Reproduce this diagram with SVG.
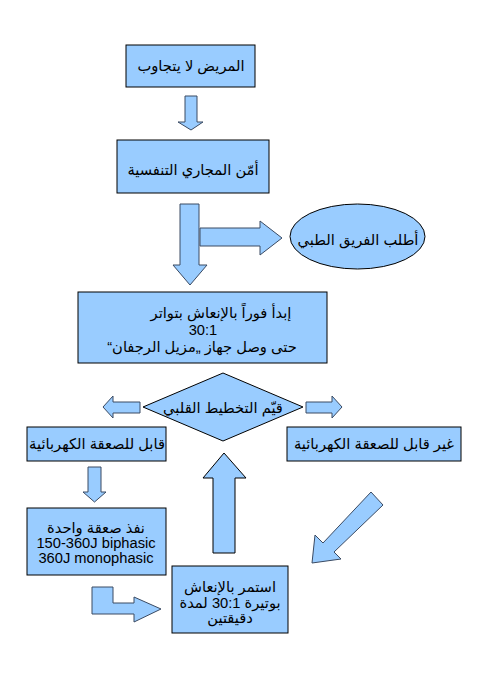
<svg xmlns="http://www.w3.org/2000/svg" width="482" height="682" viewBox="0 0 482 682">
<style>
.box{fill:#99ccff;stroke:#000;stroke-width:1}
.arr{fill:#99ccff;stroke:#3a4a62;stroke-width:1;stroke-linejoin:miter}
.t{font-family:"Liberation Sans","DejaVu Sans",sans-serif;font-size:14.7px;fill:#000;text-anchor:middle}
</style>
<rect width="482" height="682" fill="#fff"/>
<g id="connectors">
<polygon class="arr" points="185,96 197,96 197,122 203,122 191,130 178,122 185,122"/>
<polygon class="arr" points="180,204 199,204 199,265 207,265 190,285 173,265 180,265"/>
<polygon class="arr" points="200,228 260,228 260,221 282,238 260,255 260,246 200,246"/>
<polygon class="arr" points="140,402 113,402 113,396 103,407 113,418 113,413 140,413"/>
<polygon class="arr" points="306,402 332,402 332,396 342,407 332,418 332,413 306,413"/>
<polygon class="arr" points="88,467 101,467 101,492 106,492 94.5,502 83,492 88,492"/>
<polygon class="arr" style="stroke:#000" points="213,553 235,553 235,478 246,478 224,453 203,478 213,478"/>
<polygon class="arr" points="312,563 315,535 323,543 371,492 383,505 334,552 341,559"/>
<polygon class="arr" points="92,587 113,587 113,603 134,603 134,597 161,609 134,622 134,614 92,614"/>
</g>
<g id="n1">
<rect class="box" x="126" y="45" width="129" height="42"/>
<text class="t" x="191" y="71" direction="rtl">المريض لا يتجاوب</text>
</g>
<g id="n2">
<rect class="box" x="117" y="140" width="152" height="53"/>
<text class="t" x="193" y="175" direction="rtl">أمّن المجاري التنفسية</text>
</g>
<g id="n3">
<ellipse class="box" cx="357.5" cy="236.5" rx="67.5" ry="32.5"/>
<text class="t" x="358" y="245" direction="rtl">أطلب الفريق الطبي</text>
</g>
<g id="n4">
<rect class="box" x="78" y="292" width="249" height="71"/>
<text class="t" x="221" y="318" direction="rtl">إبدأ فوراً بالإنعاش بتواتر</text>
<text class="t" x="203" y="335">30:1</text>
<text class="t" x="202" y="352" direction="rtl">حتى وصل جهاز „مزيل الرجفان“</text>
</g>
<g id="n5">
<polygon class="box" points="223,373 303,407 223,441 143,407"/>
<text class="t" x="223" y="413" direction="rtl">قيّم التخطيط القلبي</text>
</g>
<g id="n6">
<rect class="box" x="27" y="427" width="139" height="34"/>
<text class="t" x="97" y="449" direction="rtl">قابل للصعقة الكهربائية</text>
</g>
<g id="n7">
<rect class="box" x="287" y="427" width="174" height="34"/>
<text class="t" x="374" y="449" direction="rtl">غير قابل للصعقة الكهربائية</text>
</g>
<g id="n8">
<rect class="box" x="27" y="508" width="139" height="67"/>
<text class="t" x="96" y="533" direction="rtl">نفذ صعقة واحدة</text>
<text class="t" x="96" y="548">150-360J biphasic</text>
<text class="t" x="96" y="563">360J monophasic</text>
</g>
<g id="n9">
<rect class="box" x="172" y="566" width="116" height="67"/>
<text class="t" x="230" y="592" direction="rtl">استمر بالإنعاش</text>
<text class="t" x="230" y="608" direction="rtl">بوتيرة 30:1 لمدة</text>
<text class="t" x="230" y="623" direction="rtl">دقيقتين</text>
</g>
</svg>
